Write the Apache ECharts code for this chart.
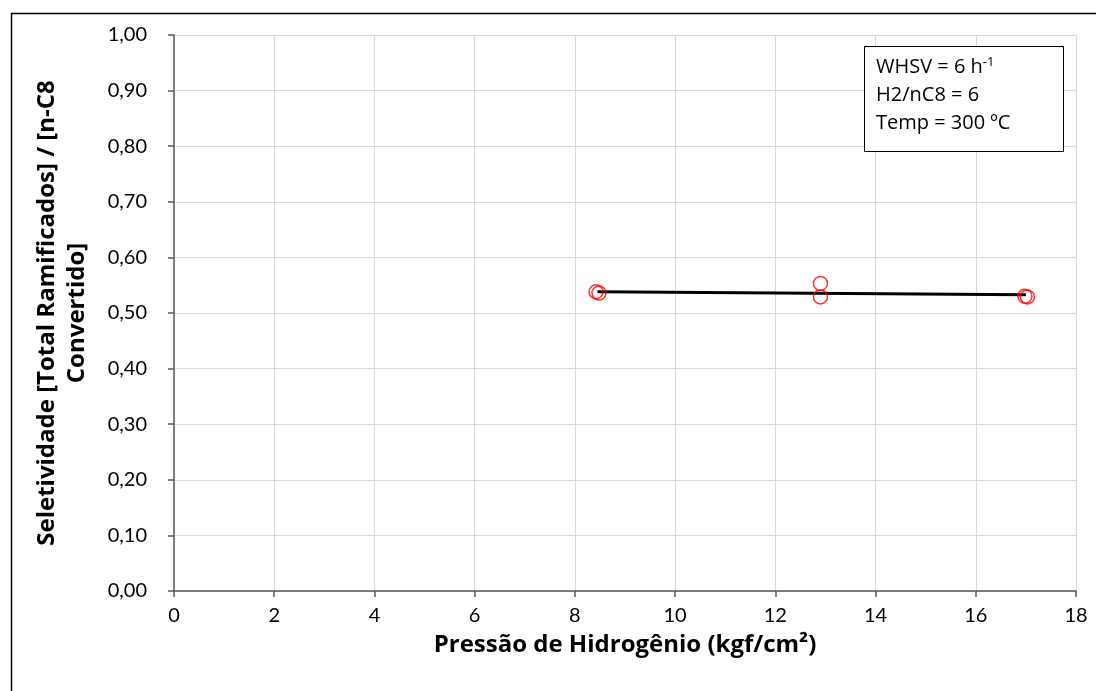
<!DOCTYPE html>
<html>
<head>
<meta charset="utf-8">
<script src="https://cdn.jsdelivr.net/npm/echarts@6/dist/echarts.min.js"></script>
<style>
html,body{margin:0;padding:0;background:#fff;}
#chart{width:1096px;height:691px;}
</style>
</head>
<body>
<div id="chart"></div>
<script>
// Data
const pressure = [8.42, 8.48, 12.9, 12.9, 16.98, 17.03];
const selectivity = [0.538, 0.536, 0.553, 0.529, 0.530, 0.529];
const trendX = [8.45, 17.0];
const trendY = [0.538, 0.533];
const xTicks = [0, 2, 4, 6, 8, 10, 12, 14, 16, 18];
const yTicks = [0, 0.1, 0.2, 0.3, 0.4, 0.5, 0.6, 0.7, 0.8, 0.9, 1.0];
const xTitle = 'Pressão de Hidrogênio (kgf/cm²)';
const yTitle = 'Seletividade [Total Ramificados] / [n-C8\nConvertido]';
const noteLines = ['WHSV = 6 h', 'H2/nC8 = 6', 'Temp = 300 ºC'];

const FONT = 'Lato';
const TFONT = 'Open Sans';
const chart = echarts.init(document.getElementById('chart'));
const option = {
  backgroundColor: '#fff',
  animation: false,
  textStyle: {fontFamily: FONT},
  grid: {left: 174, right: 20, top: 35, bottom: 100},
  xAxis: {
    type: 'value', min: xTicks[0], max: xTicks[xTicks.length - 1], interval: 2,
    name: xTitle, nameLocation: 'middle', nameGap: 42,
    nameTextStyle: {fontFamily: TFONT, fontWeight: 'bold', fontSize: 24, color: '#000'},
    axisLine: {show: true, onZero: false, lineStyle: {color: '#595959', width: 1.5}},
    axisTick: {show: true, length: 6, lineStyle: {color: '#595959', width: 1.5}},
    axisLabel: {fontFamily: FONT, fontSize: 20, color: '#000', margin: 15},
    splitLine: {show: true, lineStyle: {color: '#d9d9d9', width: 1}}
  },
  yAxis: {
    type: 'value', min: yTicks[0], max: yTicks[yTicks.length - 1], interval: 0.1,
    name: yTitle, nameLocation: 'middle', nameGap: 82, nameRotate: 90,
    nameTextStyle: {fontFamily: TFONT, fontWeight: 'bold', fontSize: 24, color: '#000', lineHeight: 30, align: 'center'},
    axisLine: {show: true, onZero: false, lineStyle: {color: '#595959', width: 1.5}},
    axisTick: {show: true, length: 6, lineStyle: {color: '#595959', width: 1.5}},
    axisLabel: {fontFamily: FONT, fontSize: 20, color: '#000', margin: 27,
      formatter: v => v.toFixed(2).replace('.', ',')},
    splitLine: {show: true, lineStyle: {color: '#d9d9d9', width: 1}}
  },
  graphic: [
    {type: 'rect', left: 9, top: 11, silent: true,
     shape: {width: 1100, height: 700}, style: {fill: 'none', stroke: '#000', lineWidth: 1.5}, z: 100},
    {type: 'rect', left: 864, top: 46, silent: true,
     shape: {width: 199, height: 105}, style: {fill: '#fff', stroke: '#000', lineWidth: 1}, z: 90},
    {type: 'text', left: 876, top: 56, z: 91,
     style: {rich: {n: {fontFamily: TFONT, fontSize: 20, fill: '#000'}, s: {fontFamily: TFONT, fontSize: 13, fill: '#000', verticalAlign: 'top', padding: [0,0,9,0]}},
       text: '{n|' + noteLines[0] + '}{s|-1}', fontFamily: TFONT, fontSize: 20, fill: '#000'}},
    {type: 'text', left: 876, top: 85, z: 91,
     style: {text: noteLines[1], fontFamily: TFONT, fontSize: 20, fill: '#000'}},
    {type: 'text', left: 876, top: 113, z: 91,
     style: {text: noteLines[2], fontFamily: TFONT, fontSize: 20, fill: '#000'}}
  ],
  series: [
    {type: 'line', data: trendX.map((x, i) => [x, trendY[i]]), symbol: 'none',
     lineStyle: {color: '#000', width: 3}, z: 3},
    {type: 'scatter', data: pressure.map((x, i) => [x, selectivity[i]]), symbol: 'circle', symbolSize: 14,
     itemStyle: {color: 'rgba(0,0,0,0)', borderColor: '#ff0000', borderWidth: 1.5}, z: 4}
  ]
};
chart.setOption(option);
</script>
</body>
</html>
